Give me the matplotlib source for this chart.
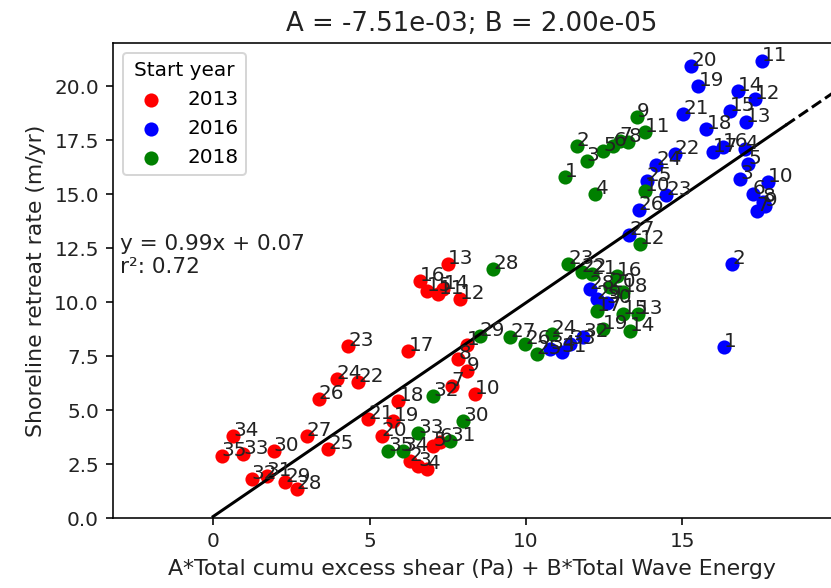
import numpy as np
import matplotlib
matplotlib.use("Agg")
import matplotlib.pyplot as plt

# coefficients shown in the title
A = -7.51e-03
B = 2.00e-05

# fit shown on the plot
slope = 0.99
intercept = 0.07
r2 = 0.72
fit_end = 18.3   # solid part ends here, dashed beyond

years = ["2013", "2016", "2018"]
colors = ["red", "blue", "green"]

red_x = [8.10, 6.29, 6.56, 6.83, 7.04, 7.25, 7.62, 7.84, 8.10, 8.37,
         7.20, 7.89, 7.51, 7.36, 6.83, 6.61, 6.24, 5.92, 5.76, 5.39,
         4.96, 4.64, 4.32, 3.95, 3.68, 3.37, 2.99, 2.67, 2.30, 1.93,
         1.72, 1.24, 0.97, 0.65, 0.28]
red_y = [8.00, 2.65, 2.42, 2.27, 3.35, 3.50, 6.13, 7.36, 6.82, 5.74,
         10.37, 10.14, 11.76, 10.60, 10.52, 10.99, 7.75, 5.43, 4.50, 3.81,
         4.58, 6.28, 7.95, 6.44, 3.19, 5.51, 3.81, 1.34, 1.65, 3.12,
         1.96, 1.81, 2.96, 3.81, 2.88]

blue_x = [16.33, 16.60, 16.84, 17.00, 17.10, 17.26, 17.37, 17.57, 17.64, 17.74,
          17.53, 17.32, 17.04, 16.78, 16.52, 16.30, 15.98, 15.77, 15.51, 15.29,
          15.03, 14.76, 14.49, 14.17, 13.86, 13.60, 13.30, 12.04, 12.26, 12.58,
          11.14, 11.83, 11.41, 10.77]
blue_y = [7.92, 11.76, 15.69, 17.08, 16.39, 15.00, 14.23, 14.63, 14.46, 15.54,
          21.17, 19.40, 18.32, 19.78, 18.86, 17.16, 16.93, 18.01, 20.01, 20.94,
          18.70, 16.85, 14.96, 16.35, 15.62, 14.27, 13.10, 10.60, 10.14, 9.98,
          7.67, 8.36, 8.06, 7.82]

green_x = [11.25, 11.62, 11.94, 12.20, 12.47, 12.79, 13.00, 13.27, 13.54, 13.80,
           13.80, 13.64, 13.59, 13.32, 13.10, 12.90, 12.26, 13.10, 12.47, 12.70,
           12.10, 11.78, 11.35, 10.82, 10.34, 9.97, 9.49, 8.96, 8.53, 8.00,
           7.57, 7.04, 6.56, 6.08, 5.60]
green_y = [15.77, 17.24, 16.54, 15.00, 17.00, 17.24, 17.47, 17.39, 18.55, 15.15,
           17.86, 12.69, 9.44, 8.67, 9.44, 11.22, 9.60, 10.45, 8.75, 10.70,
           11.30, 11.37, 11.76, 8.52, 7.59, 8.06, 8.36, 11.53, 8.44, 4.50,
           3.58, 5.66, 3.96, 3.12, 3.12]

xs = [red_x, blue_x, green_x]
ys = [red_y, blue_y, green_y]

fig = plt.figure(figsize=(8.31 / 1.44, 5.88 / 1.44), dpi=144)
ax = fig.add_axes([0.136, 0.119, 0.864, 0.808])

for yr, c, x, y in zip(years, colors, xs, ys):
    ax.scatter(x, y, s=50, color=c, linewidths=0, label=yr)
    for i in range(len(x)):
        ax.text(x[i], y[i], str(i + 1), fontsize=10, color="#222222")

xf = np.array([0, fit_end])
ax.plot(xf, slope * xf + intercept, color="black")
xd = np.array([fit_end, 21])
ax.plot(xd, slope * xd + intercept, color="black", linestyle="--")

ax.text(-2.97, 12.15, "y = %.2fx + %.2f\nr²: %.2f" % (slope, intercept, r2),
        va="center", fontsize=10.8, color="#222222")

ax.set_xlim(-3.2, 19.75)
ax.set_ylim(0, 22)
ax.spines["right"].set_visible(False)
ax.tick_params(labelsize=10, labelcolor="#222222")
ax.set_title("A = %.2e; B = %.2e" % (A, B), fontsize=13, color="#222222")
ax.set_xlabel("A*Total cumu excess shear (Pa) + B*Total Wave Energy", fontsize=11, color="#222222")
ax.set_ylabel("Shoreline retreat rate (m/yr)", fontsize=11, color="#222222")
ax.legend(title="Start year", loc="upper left")

fig.savefig("out.png", dpi=144)
